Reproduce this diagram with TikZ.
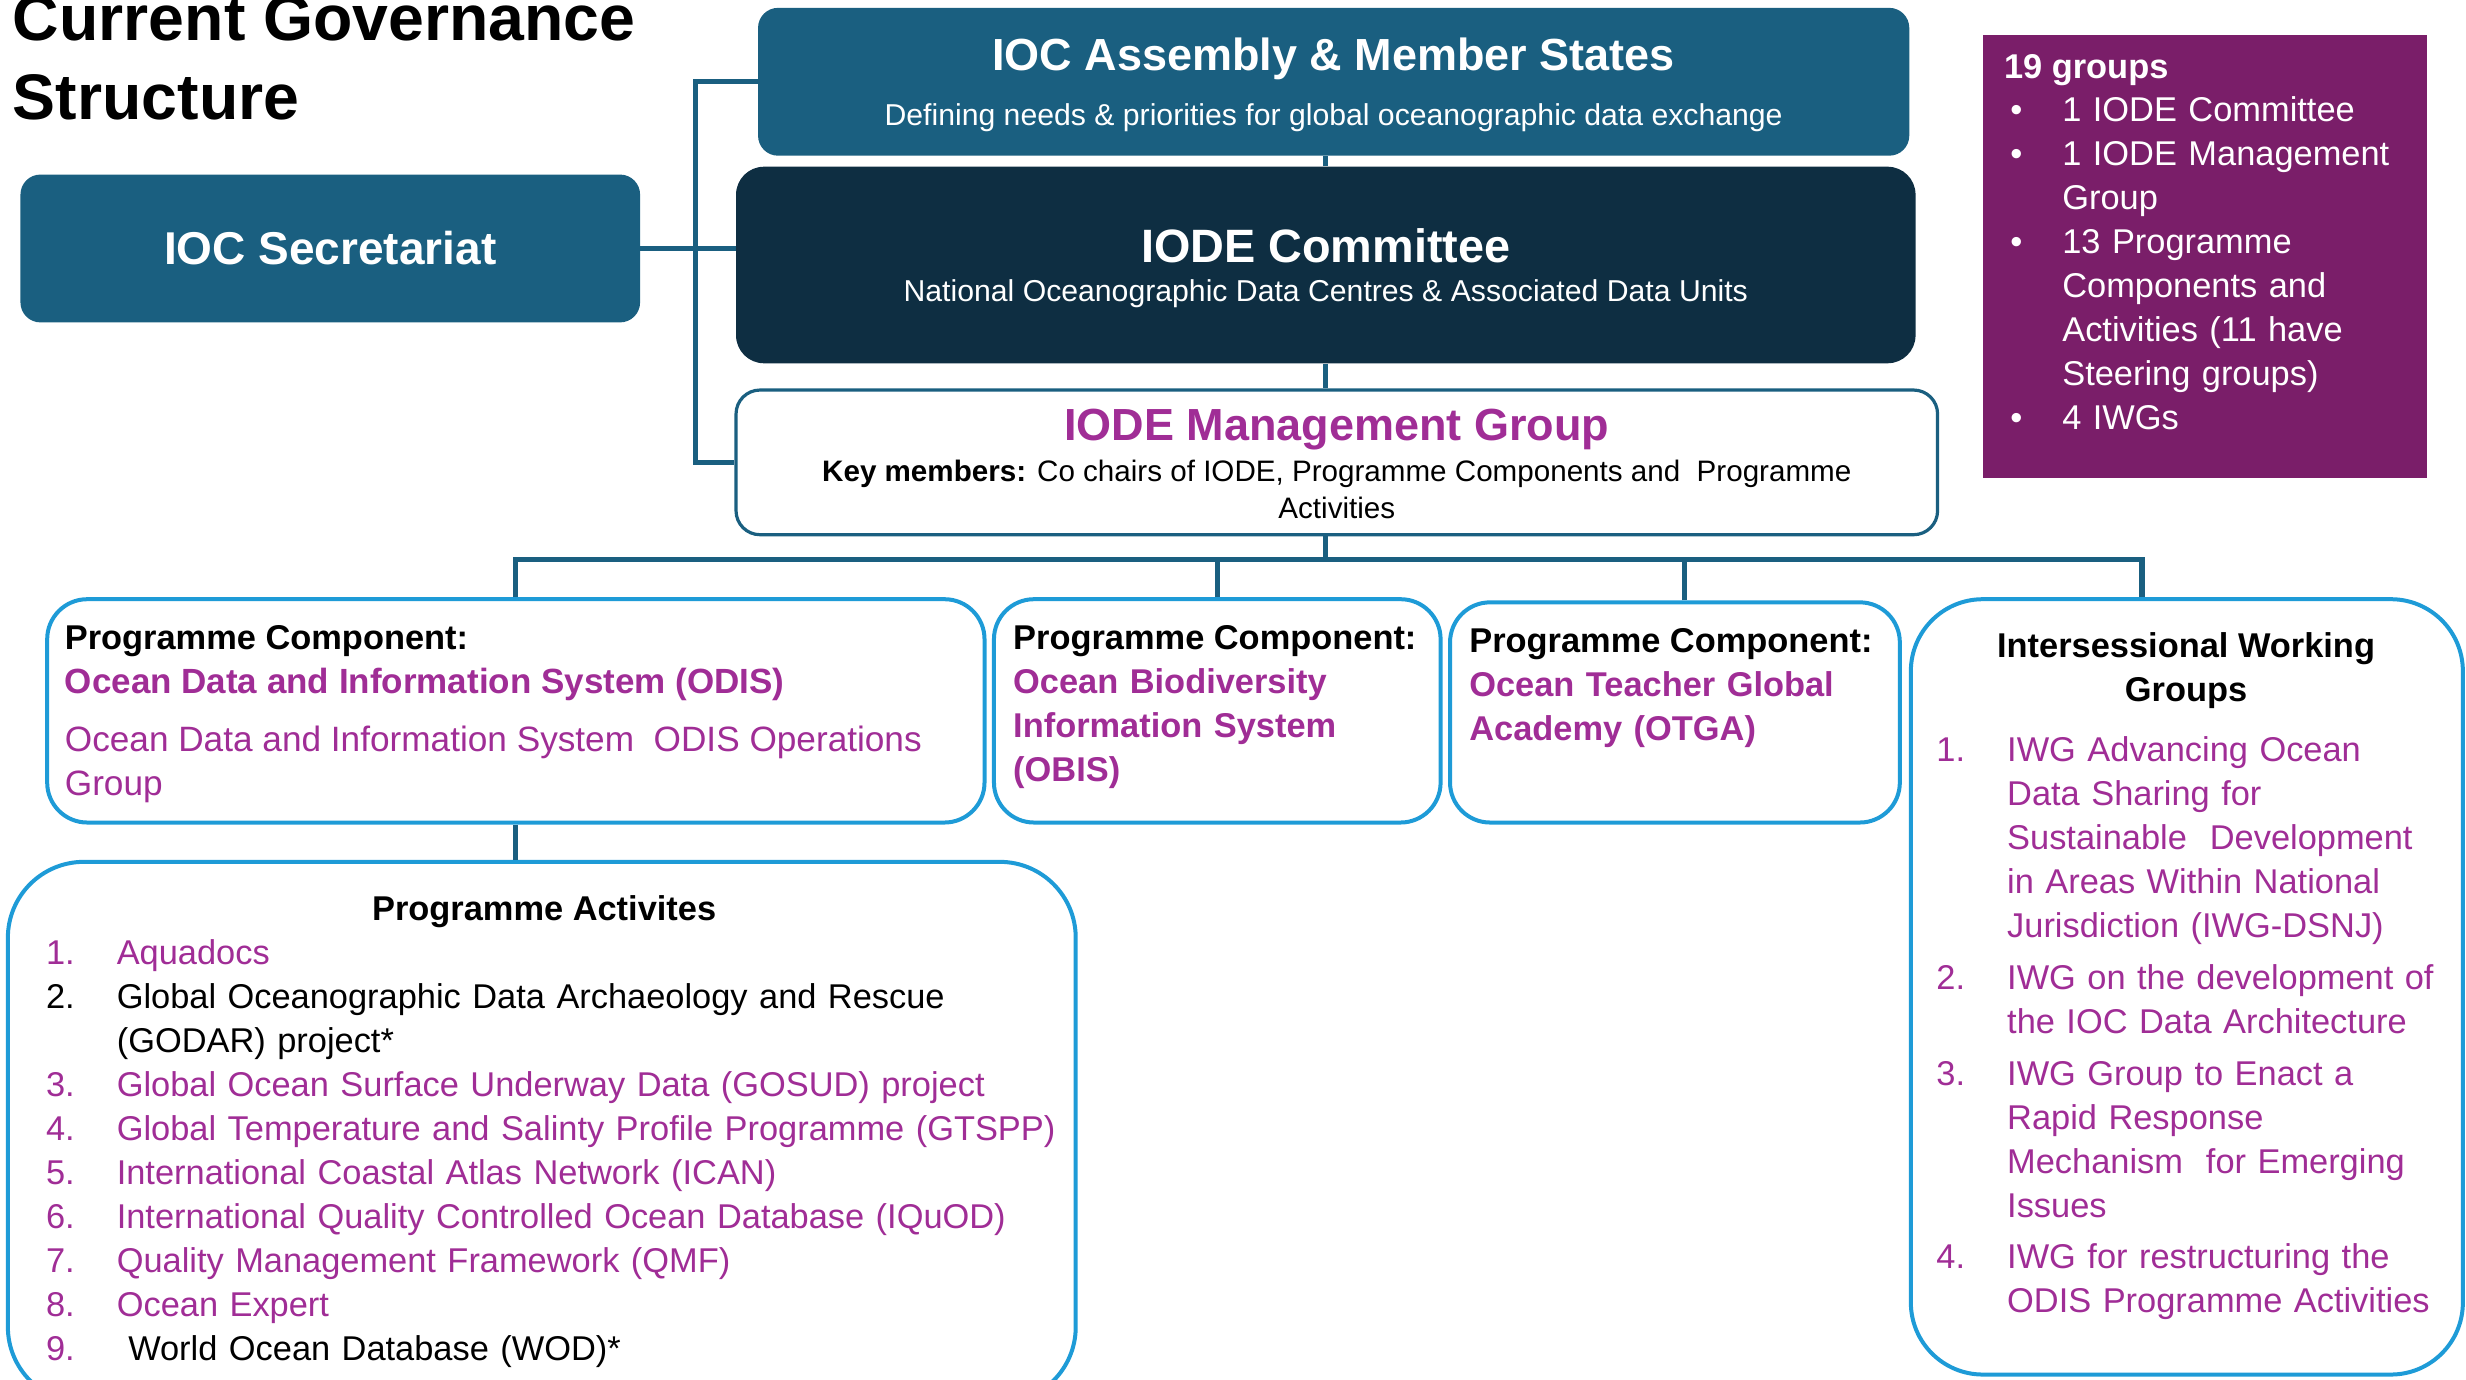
\documentclass[tikz,border=0pt]{standalone}
\usepackage{fontspec}
\setmainfont{Liberation Sans}
\usetikzlibrary{fit}
\definecolor{cblue}{HTML}{1A5F80}
\definecolor{cnavy}{HTML}{0E2E42}
\definecolor{lblue}{HTML}{1E9BD7}
\definecolor{cpurple}{HTML}{A02D96}
\definecolor{boxpurple}{HTML}{7A1E69}
\newcommand\itm[2]{\makebox[35.4pt][l]{#1}#2}
\newcommand\bul[1]{\makebox[26pt][l]{\textbullet}#1}
\begin{document}
\begin{tikzpicture}[x=0.7864pt,y=-0.7864pt,
  conn/.style={draw=cblue, line width=2.6pt},
  topbox/.style={fill=cblue, rounded corners=10pt, inner sep=0pt},
  pcbox/.style={draw=lblue, line width=2pt, fill=white, rounded corners=20pt, inner sep=0pt},
  t/.style={inner sep=0pt, anchor=base west},
  tc/.style={inner sep=0pt, anchor=base},
  body/.style={font=\fontsize{17.3}{22}\selectfont},
  bodyb/.style={font=\fontsize{17.2}{22}\selectfont\bfseries},
  head/.style={font=\fontsize{22.5}{26}\selectfont\bfseries},
  sub/.style={font=\fontsize{15.1}{18}\selectfont},
  lst/.style={inner sep=0pt, anchor=base west, align=left, font=\fontsize{17.2}{22}\selectfont}]
\useasboundingbox (0,0) rectangle (1568,877);
% boxes
\node[fit={(482,5)(1214,99)}, topbox] (asm) {};
\node[fit={(468,106)(1218,231)}, topbox, fill=cnavy, rounded corners=14pt] (com) {};
\node[fit={(13,111)(407,205)}, topbox] (sec) {};
\node[fit={(468,248)(1232,340)}, draw=cblue, line width=1.6pt, fill=white, rounded corners=12pt, inner sep=0pt] (mgmt) {};
\node[fit={(1261,22)(1543,304)}, fill=boxpurple, inner sep=0pt] (cnt) {};
\node[fit={(30,381)(626,523)}, pcbox] (odis) {};
\node[fit={(632,381)(916,523)}, pcbox] (obis) {};
\node[fit={(922,383)(1208,523)}, pcbox] (otga) {};
\node[fit={(1215,381)(1566,874)}, pcbox, rounded corners=36pt] (iwg) {};
\node[fit={(5,548)(684,892)}, pcbox, rounded corners=38pt] (act) {};
% connectors
\coordinate (spine) at (442,0);
\coordinate (bus) at (0,356);
\coordinate (otgad) at (1071,0);
\coordinate (iwgd) at (1362,0);
\draw[conn] (asm.west) -- (asm.west -| spine) -- (spine |- mgmt.west) -- (mgmt.west);
\draw[conn] (sec.east) -- (sec.east -| com.west);
\draw[conn] (com.north) -- (com.north |- asm.south);
\draw[conn] (com.south) -- (com.south |- mgmt.north);
\draw[conn] (com.south |- mgmt.south) -- (com.south |- bus);
\draw[conn] (odis.north) -- (odis.north |- bus) -- (iwgd |- bus) -- (iwgd |- iwg.north);
\draw[conn] (obis.north) -- (obis.north |- bus);
\draw[conn] (otgad |- otga.north) -- (otgad |- bus);
\draw[conn] (odis.south) -- (odis.south |- act.north);
% title
\node[t, font=\fontsize{32.2}{40}\selectfont\bfseries] (title1) at (8,26) {Current Governance};
\node[t, font=\fontsize{32.2}{40}\selectfont\bfseries] (title2) at (8,76) {Structure};
% top texts
\node[tc, head, text=white] (asmT) at (848,45) {IOC Assembly \& Member States};
\node[tc, sub, text=white] (asmS) at (848,80) {Defining needs \& priorities for global oceanographic data exchange};
\node[tc, font=\fontsize{23.4}{26}\selectfont\bfseries, text=white] (comT) at (843,167) {IODE Committee};
\node[tc, sub, text=white] (comS) at (843,192) {National Oceanographic Data Centres \& Associated Data Units};
\node[tc, font=\fontsize{23}{26}\selectfont\bfseries, text=white] (secT) at (210,168) {IOC Secretariat};
\node[tc, head, text=cpurple] (mgmtT) at (850,280) {IODE Management Group};
\node[tc, font=\fontsize{14.8}{18}\selectfont] (mgmtS1) at (850,306) {\textbf{Key members:} Co chairs of IODE, Programme Components and\ \ Programme};
\node[tc, font=\fontsize{14.8}{18}\selectfont] (mgmtS2) at (850,330) {Activities};
% count box
\node[t, bodyb, text=white] (cntT) at (1274,50) {19 groups};
\node[lst, text=white, text width=260pt] (cntL) at (1278,77) {\bul{1 IODE Committee}\\ \bul{1 IODE Management}\\ \hspace*{26pt}Group\\ \bul{13 Programme}\\ \hspace*{26pt}Components and\\ \hspace*{26pt}Activities (11 have\\ \hspace*{26pt}Steering groups)\\ \bul{4 IWGs}};
% programme components
\node[t, bodyb] (odisA) at (41,413) {Programme Component:};
\node[t, font=\fontsize{17.5}{22}\selectfont\bfseries, text=cpurple] (odisB) at (41,441) {Ocean Data and Information System (ODIS)};
\node[t, font=\fontsize{17.6}{22}\selectfont, text=cpurple] (odisC) at (41,478) {Ocean Data and Information System\ \ ODIS Operations};
\node[t, font=\fontsize{17.6}{22}\selectfont, text=cpurple] (odisD) at (41,506) {Group};
\node[t, bodyb] (obisA) at (644,413) {Programme Component:};
\node[lst, font=\fontsize{17.2}{22}\selectfont\bfseries, text=cpurple, text width=240pt] (obisB) at (644,441) {Ocean Biodiversity\\ Information System\\ (OBIS)};
\node[t, bodyb] (otgaA) at (934,415) {Programme Component:};
\node[lst, font=\fontsize{17.2}{22}\selectfont\bfseries, text=cpurple, text width=240pt] (otgaB) at (934,443) {Ocean Teacher Global\\ Academy (OTGA)};
% IWG
\node[tc, bodyb] (iwgT1) at (1390,418) {Intersessional Working};
\node[tc, bodyb] (iwgT2) at (1390,446) {Groups};
\node[lst, text=cpurple, text width=320pt] (iwgL) at (1231,484) {\itm{1.}{IWG Advancing Ocean}\\ \hspace*{35.4pt}Data Sharing for\\ \hspace*{35.4pt}Sustainable\ \ Development\\ \hspace*{35.4pt}in Areas Within National\\ \hspace*{35.4pt}Jurisdiction (IWG-DSNJ)\\[4pt] \itm{2.}{IWG on the development of}\\ \hspace*{35.4pt}the IOC Data Architecture\\[4pt] \itm{3.}{IWG Group to Enact a}\\ \hspace*{35.4pt}Rapid Response\\ \hspace*{35.4pt}Mechanism\ \ for Emerging\\ \hspace*{35.4pt}Issues\\[3.5pt] \itm{4.}{IWG for restructuring the}\\ \hspace*{35.4pt}ODIS Programme Activities};
% activities
\node[tc, bodyb] (actT) at (346,585) {Programme Activites};
\node[lst, text width=560pt] (actL) at (29,613) {\color{cpurple}\itm{1.}{Aquadocs}\\ \color{black}\itm{2.}{Global Oceanographic Data Archaeology and Rescue}\\ \hspace*{35.4pt}(GODAR) project*\\ \color{cpurple}\itm{3.}{Global Ocean Surface Underway Data (GOSUD) project}\\ \itm{4.}{Global Temperature and Salinty Profile Programme (GTSPP)}\\ \itm{5.}{International Coastal Atlas Network (ICAN)}\\ \itm{6.}{International Quality Controlled Ocean Database (IQuOD)}\\ \itm{7.}{Quality Management Framework (QMF)}\\ \itm{8.}{Ocean Expert}\\ \itm{9.}{\color{black}\ World Ocean Database (WOD)*}};
\end{tikzpicture}
\end{document}
